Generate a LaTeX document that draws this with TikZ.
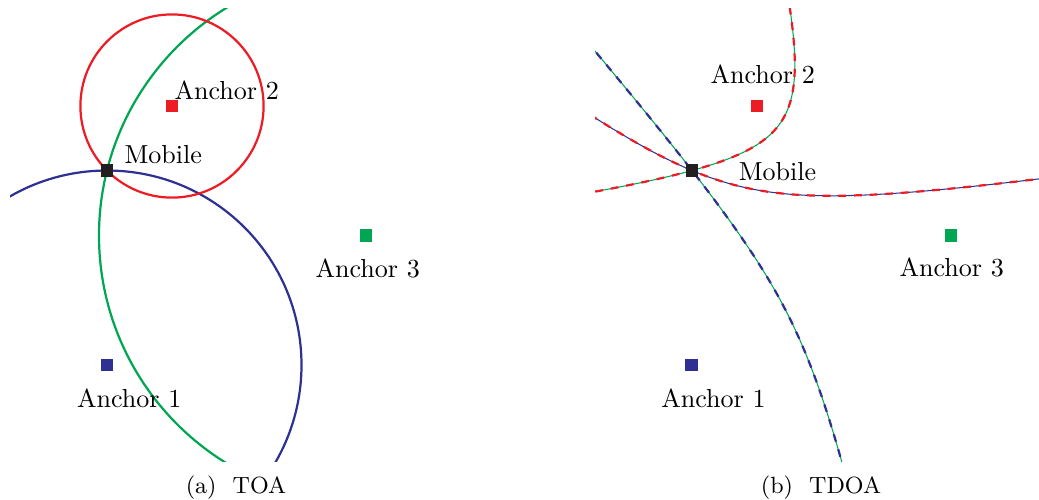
\documentclass[tikz,border=0pt]{standalone}
\usetikzlibrary{positioning}

\definecolor{ancred}{RGB}{237,28,36}
\definecolor{ancgreen}{RGB}{0,166,81}
\definecolor{ancblue}{RGB}{46,49,146}
\definecolor{mobblack}{RGB}{35,31,32}

\tikzset{
  anc/.style={fill=#1,inner sep=0pt,minimum size=0.17cm},
  lbl/.style={anchor=base west,inner sep=0pt},
  curve/.style={line width=0.85pt},
  twotone/.style 2 args={curve,#2,dash pattern=on 3pt off 3pt,
    preaction={draw=#1,solid}},
}

\begin{document}
\begin{tikzpicture}[x=0.01349cm,y=-0.01349cm]
\useasboundingbox (0,0) rectangle (1039,499);

% (a) TOA
\coordinate (la1) at (107,365);
\coordinate (la2) at (172,106);
\coordinate (la3) at (366,235.5);
\coordinate (lm) at (107,170.5);
\begin{scope}
\clip (10,8) rectangle (454,461);
\draw[curve,ancgreen] (la3) circle[radius=267.0];
\draw[curve,ancblue] (la1) circle[radius=194.5];
\draw[curve,ancred] (la2) circle[radius=91.6];
\end{scope}
\node[anc=ancblue] (a1) at (la1) {};
\node[anc=ancred] (a2) at (la2) {};
\node[anc=ancgreen] (a3) at (la3) {};
\node[anc=mobblack] (m) at (lm) {};
\node[lbl] (a2t) at (174,99) {Anchor 2};
\node[lbl] (mt) at (124,163.3) {Mobile};
\node[lbl] (a3t) at (315,277.3) {Anchor 3};
\node[lbl] (a1t) at (76.5,407.3) {Anchor 1};
\node[anchor=base,font=\small] (capa) at (236,493.5) {(a)~~TOA};

% (b) TDOA
\coordinate (ra1) at (691.5,365);
\coordinate (ra2) at (757,106);
\coordinate (ra3) at (951,235.5);
\coordinate (rm) at (692,170.5);
\begin{scope}
\clip (595,8) rectangle (1039,461);
\draw[twotone={ancgreen}{ancblue}] plot[domain=-1.8:1.3,samples=120,variable=\t]
  ({821.25-32.45*cosh(\t)+62.69*sinh(\t)},{300.25+16.19*cosh(\t)+125.63*sinh(\t)});
\draw[twotone={ancgreen}{ancred}] plot[domain=-1.6:1.3,samples=120,variable=\t]
  ({854-72.97*cosh(\t)+42.67*sinh(\t)},{170.75-48.71*cosh(\t)-63.92*sinh(\t)});
\draw[twotone={ancblue}{ancred}] plot[domain=-1.5:1.7,samples=120,variable=\t]
  ({724.25+12.62*cosh(\t)+119.51*sinh(\t)},{235.5-49.90*cosh(\t)+30.22*sinh(\t)});
\end{scope}
\node[anc=ancblue] (b1) at (ra1) {};
\node[anc=ancred] (b2) at (ra2) {};
\node[anc=ancgreen] (b3) at (ra3) {};
\node[anc=mobblack] (bm) at (rm) {};
\node[lbl] (b2t) at (710,83.3) {Anchor 2};
\node[lbl] (bmt) at (738.3,180) {Mobile};
\node[lbl] (b3t) at (899,276.7) {Anchor 3};
\node[lbl] (b1t) at (660.8,407.3) {Anchor 1};
\node[anchor=base,font=\small] (capb) at (821,493.5) {(b)~~TDOA};
\end{tikzpicture}
\end{document}
